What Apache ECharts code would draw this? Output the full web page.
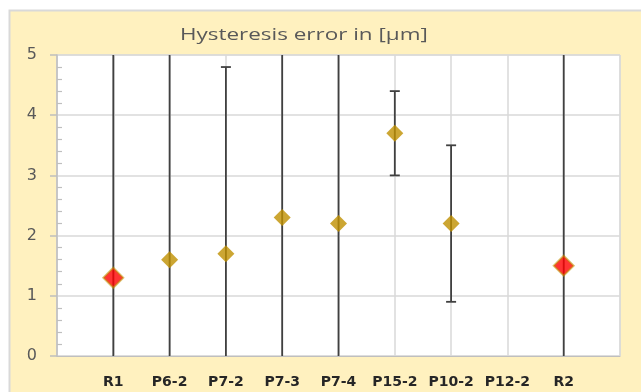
<!DOCTYPE html>
<html>
<head>
<meta charset="utf-8">
<script src="https://cdn.jsdelivr.net/npm/echarts@6/dist/echarts.min.js"></script>
<style>
  html, body { margin: 0; padding: 0; background: #ffffff; }
  #chart { width: 641px; height: 392px; }
</style>
</head>
<body>
<div id="chart"></div>
<script>
// ---- data ----
var categories = ['R1', 'P6-2', 'P7-2', 'P7-3', 'P7-4', 'P15-2', 'P10-2', 'P12-2', 'R2'];
var values     = [1.3, 1.6, 1.7, 2.3, 2.2, 3.7, 2.2, null, 1.5];
// error-bar ends (values at 0 / 5 are clipped by the axis in the reference)
var errLow     = [0, 0, 0, 0, 0, 3.0, 0.9, null, 0];
var errHigh    = [5, 5, 4.8, 5, 5, 4.4, 3.5, null, 5];
var isReference = [true, false, false, false, false, false, false, false, true];
var yTicks = [0, 1, 2, 3, 4, 5];
var titleText = 'Hysteresis error in [\u00b5m]';

var Y_MIN = yTicks[0], Y_MAX = yTicks[yTicks.length - 1];
var GOLD = '#BF9000';

var chart = echarts.init(document.getElementById('chart'), null, { renderer: 'canvas' });

var errData = [];
var pointData = [];
categories.forEach(function (c, i) {
  if (errLow[i] != null && errHigh[i] != null) errData.push([i + 1, errLow[i], errHigh[i]]);
  if (values[i] != null) {
    pointData.push({
      value: [i + 1, values[i]],
      symbolSize: isReference[i] ? 20 : 17,
      itemStyle: isReference[i]
        ? { color: '#FF0000', borderColor: 'rgba(191,144,0,0.7)', borderWidth: 2 }
        : { color: GOLD }
    });
  }
});

var option = {
  backgroundColor: '#ffffff',
  animation: false,
  graphic: [{
    type: 'rect',
    z: -10,
    silent: true,
    shape: { x: 9.5, y: 10.5, width: 700, height: 400 },
    style: { fill: '#FFF1BF', stroke: '#D9D9D9', lineWidth: 2 }
  }, {
    type: 'text',
    silent: true,
    x: 180,
    y: 35,
    scaleX: 1.32,
    style: {
      text: titleText,
      fontFamily: 'Open Sans', fontSize: 17, fill: '#595959',
      verticalAlign: 'middle', align: 'left'
    }
  }],
  grid: {
    left: 57, right: 21, top: 55, bottom: 36,
    show: true, backgroundColor: '#ffffff', borderColor: '#D9D9D9', borderWidth: 1
  },
  xAxis: {
    type: 'value',
    min: 0, max: categories.length + 1, interval: 1,
    axisLine: { show: true, lineStyle: { color: '#BFBFBF', width: 1 } },
    axisTick: { show: false },
    splitLine: { show: true, lineStyle: { color: '#D9D9D9', width: 1.5 } },
    axisLabel: {
      margin: 19,
      fontFamily: 'DejaVu Sans', fontSize: 14, fontWeight: 'bold', color: '#262626',
      showMinLabel: true, showMaxLabel: true,
      formatter: function (v) {
        var idx = Math.round(v) - 1;
        return (idx >= 0 && idx < categories.length) ? categories[idx] : '';
      }
    }
  },
  yAxis: [{
    type: 'value',
    min: Y_MIN, max: Y_MAX, interval: 1,
    axisLine: { show: true, lineStyle: { color: '#BFBFBF', width: 1.5 } },
    axisTick: { show: true, length: 7, lineStyle: { color: '#BFBFBF', width: 1.5 } },
    splitLine: { show: true, lineStyle: { color: '#D9D9D9', width: 1.5 } },
    axisLabel: { margin: 20, fontFamily: 'DejaVu Sans', fontSize: 16, color: '#595959' }
  }, {
    type: 'value',
    position: 'left',
    min: Y_MIN, max: Y_MAX, interval: 1,
    axisLine: { show: false },
    axisTick: { show: false, inside: true },
    minorTick: { show: true, splitNumber: 5, length: 5, lineStyle: { color: '#BFBFBF', width: 1.2 } },
    splitLine: { show: false },
    axisLabel: { show: false }
  }],
  series: [{
    type: 'custom',
    clip: true,
    data: errData,
    z: 2,
    renderItem: function (params, api) {
      var x = api.value(0), lo = api.value(1), hi = api.value(2);
      var pLo = api.coord([x, lo]);
      var pHi = api.coord([x, hi]);
      var style = { stroke: '#404040', lineWidth: 1.8 };
      var children = [{
        type: 'line',
        shape: { x1: pLo[0], y1: pLo[1], x2: pHi[0], y2: pHi[1] },
        style: style
      }];
      var capW = 5;
      [[lo, pLo], [hi, pHi]].forEach(function (e) {
        if (e[0] > Y_MIN && e[0] < Y_MAX) {
          children.push({
            type: 'line',
            shape: { x1: e[1][0] - capW, y1: e[1][1], x2: e[1][0] + capW, y2: e[1][1] },
            style: style
          });
        }
      });
      return { type: 'group', children: children };
    }
  }, {
    type: 'scatter',
    symbol: 'diamond',
    data: pointData,
    z: 3
  }]
};

chart.setOption(option);
</script>
</body>
</html>
